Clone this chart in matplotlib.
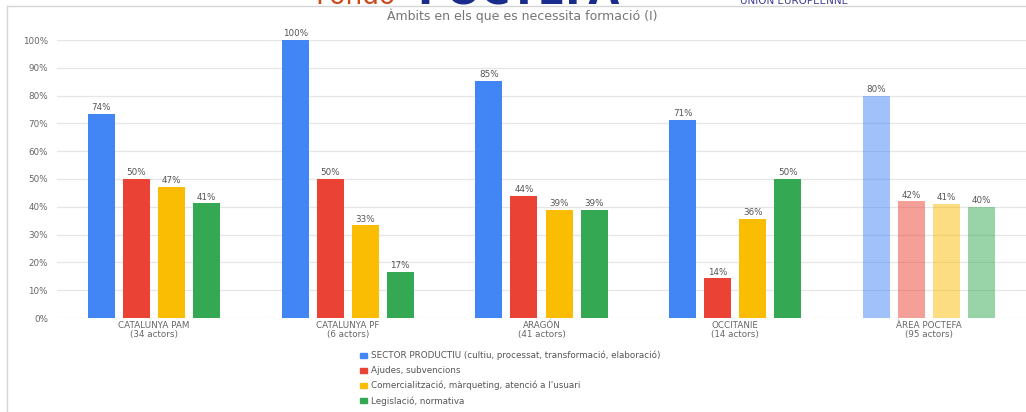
import matplotlib
matplotlib.use("Agg")
import matplotlib.pyplot as plt
from matplotlib.lines import Line2D
from matplotlib.patches import Patch
from matplotlib.ticker import FuncFormatter
import numpy as np

regions = ["CATALUNYA PAM\n(34 actors)", "CATALUNYA PF\n(6 actors)", "ARAGÓN\n(41 actors)",
           "OCCITANIE\n(14 actors)", "ÀREA POCTEFA\n(95 actors)"]
series = ["SECTOR PRODUCTIU (cultiu, processat, transformació, elaboració)",
          "Ajudes, subvencions",
          "Comercialització, màrqueting, atenció a l'usuari",
          "Legislació, normativa"]
sector = [73.5, 100.0, 85.4, 71.4, 80.0]
ajudes = [50.0, 50.0, 43.9, 14.3, 42.0]
comerc = [47.1, 33.3, 39.0, 35.7, 41.0]
legisl = [41.2, 16.7, 39.0, 50.0, 40.0]
colors = ["#4285F4", "#EA4335", "#FBBC04", "#34A853"]

W, H = 1026, 412
fig = plt.figure(figsize=(W / 100, H / 100), dpi=100)
ax = fig.add_axes([57 / W, 1 - 318 / H, 1 - 57 / W, (318 - 40) / H])

x = np.arange(len(regions))
bw = 27 / 193.75
step = 35 / 193.75
for k, vals in enumerate([sector, ajudes, comerc, legisl]):
    for i, v in enumerate(vals):
        alpha = 0.5 if i == len(regions) - 1 else 1.0
        xi = x[i] + (k - 1.5) * step
        ax.bar(xi, v, width=bw, color=colors[k], alpha=alpha, clip_on=False, zorder=3)
        ax.annotate(f"{v:.0f}%", (xi, v), xytext=(0, 1.2), textcoords="offset points",
                    ha="center", va="bottom", fontsize=6.3, color="#555555")

ax.set_xlim(-0.5, 4.5)
ax.set_ylim(0, 100)
ax.set_yticks(np.arange(0, 101, 10))
ax.yaxis.set_major_formatter(FuncFormatter(lambda v, p: f"{v:.0f}%"))
ax.set_xticks(x)
ax.set_xticklabels(regions, linespacing=0.95)
ax.tick_params(axis="y", length=0, pad=6.5, labelsize=6.3, labelcolor="#666666")
ax.tick_params(axis="x", length=0, pad=2.5, labelsize=6.3, labelcolor="#666666")
ax.grid(axis="y", color="#e6e6e6", lw=0.9, zorder=0)
for s in ax.spines.values():
    s.set_visible(False)

fig.text(522 / W, 1 - 16 / H, "Àmbits en els que es necessita formació (I)", ha="center", va="center",
         fontsize=9, color="#757575")

# cropped logo at the top of the slide
fig.text(315 / W, 1 - 4.5 / H, "Fondo", ha="left", va="baseline", fontsize=19, color="#cc4a1a")
fig.text(417 / W, 1 - 4.5 / H, "POCTEFA", ha="left", va="baseline", fontsize=29, color="#1a2d8c",
         fontweight="bold")
fig.text(740 / W, 1 - 4 / H, "UNION EUROPEENNE", ha="left", va="baseline", fontsize=7.5,
         color="#3d3d99")

# slide frame
fig.add_artist(Line2D([7 / W, 1.0], [1 - 5.5 / H] * 2, transform=fig.transFigure, color="#d6d6d6", lw=1))
fig.add_artist(Line2D([7 / W] * 2, [0, 1 - 5.5 / H], transform=fig.transFigure, color="#d6d6d6", lw=1))

handles = [Patch(color=c) for c in colors]
fig.legend(handles, series, loc="upper left", bbox_to_anchor=(360 / W, 1 - 351 / H), frameon=False,
           fontsize=6.3, handlelength=0.8, handleheight=0.5, handletextpad=0.5, labelspacing=0.65,
           borderaxespad=0, borderpad=0, labelcolor="#555555")

fig.savefig("out.png", dpi=100, facecolor="white")
